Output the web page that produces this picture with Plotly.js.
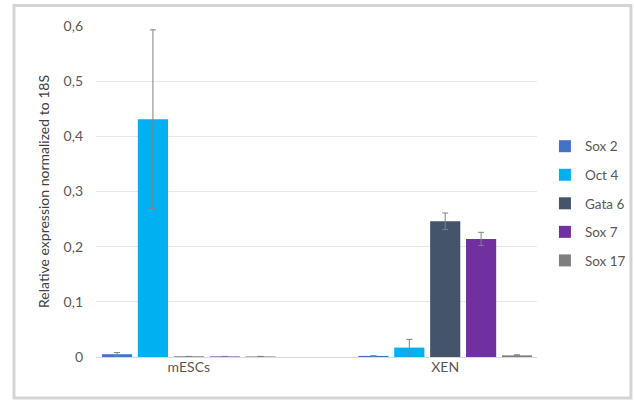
<!DOCTYPE html>
<html>
<head>
<meta charset="utf-8">
<script src="https://cdn.plot.ly/plotly-3.0.1.min.js"></script>
<style>
html,body{margin:0;padding:0;background:#fff;}
#chart{width:634px;height:401px;}
</style>
</head>
<body>
<div id="chart"></div>
<script>
var categories = ["mESCs", "XEN"];
var seriesNames = ["Sox 2", "Oct 4", "Gata 6", "Sox 7", "Sox 17"];
var sox2 = [0.005, 0.002];
var oct4 = [0.431, 0.017];
var gata6 = [0.001, 0.246];
var sox7 = [0.001, 0.214];
var sox17 = [0.001, 0.003];
var sox2Err = [0.003, 0.0];
var oct4Err = [0.162, 0.015];
var gata6Err = [0.0, 0.015];
var sox7Err = [0.0, 0.012];
var sox17Err = [0.0, 0.001];
var colors = ["#4472C4", "#00B0F0", "#44546A", "#7030A0", "#7F7F7F"];

var values = [sox2, oct4, gata6, sox7, sox17];
var errs = [sox2Err, oct4Err, gata6Err, sox7Err, sox17Err];

var traces = seriesNames.map(function(name, i){
  return {
    type: "bar",
    name: name,
    x: categories,
    y: values[i],
    legendgroup: "g" + i,
    marker: {color: colors[i]},
    error_y: {type: "data", array: errs[i], visible: true, color: "#808080", thickness: 1, width: 3}
  };
});

var layout = {
  width: 634, height: 401,
  margin: {l: 96, r: 97, t: 26, b: 44, pad: 0, autoexpand: false},
  paper_bgcolor: "#ffffff",
  plot_bgcolor: "#ffffff",
  separators: ",.",
  font: {family: "Lato, 'Open Sans', sans-serif", size: 13, color: "#595959"},
  barmode: "group",
  bargap: 0.30,
  bargroupgap: 0.16,
  showlegend: true,
  legend: {
    x: 1.018, xanchor: "left", y: 0.683, yanchor: "top",
    traceorder: "grouped", tracegroupgap: 8,
    itemwidth: 30,
    font: {size: 13.5, color: "#595959"},
    bgcolor: "rgba(0,0,0,0)"
  },
  xaxis: {
    type: "category",
    range: [-0.362, 1.358],
    showgrid: false, zeroline: false,
    showline: false, ticks: "",
    tickfont: {size: 14, color: "#595959"}
  },
  yaxis: {
    range: [0, 0.6],
    dtick: 0.1, tick0: 0,
    showgrid: true, gridcolor: "#e8e8e8", gridwidth: 1,
    zeroline: true, zerolinecolor: "#d9d9d9", zerolinewidth: 1,
    showline: false, ticks: "",
    ticklabelstandoff: 12,
    tickfont: {size: 14, color: "#595959"},
    title: {text: "Relative expression normalized to 18S", font: {size: 14, color: "#404040"}, standoff: 10}
  },
  shapes: [
    {type: "rect", xref: "paper", yref: "paper", x0: -0.186, x1: 1.213, y0: -0.124, y1: 1.062,
     line: {color: "#d4d4d4", width: 3}, fillcolor: "rgba(0,0,0,0)", layer: "below"}
  ]
};

Plotly.newPlot("chart", traces, layout, {displayModeBar: false, staticPlot: true});
</script>
</body>
</html>
